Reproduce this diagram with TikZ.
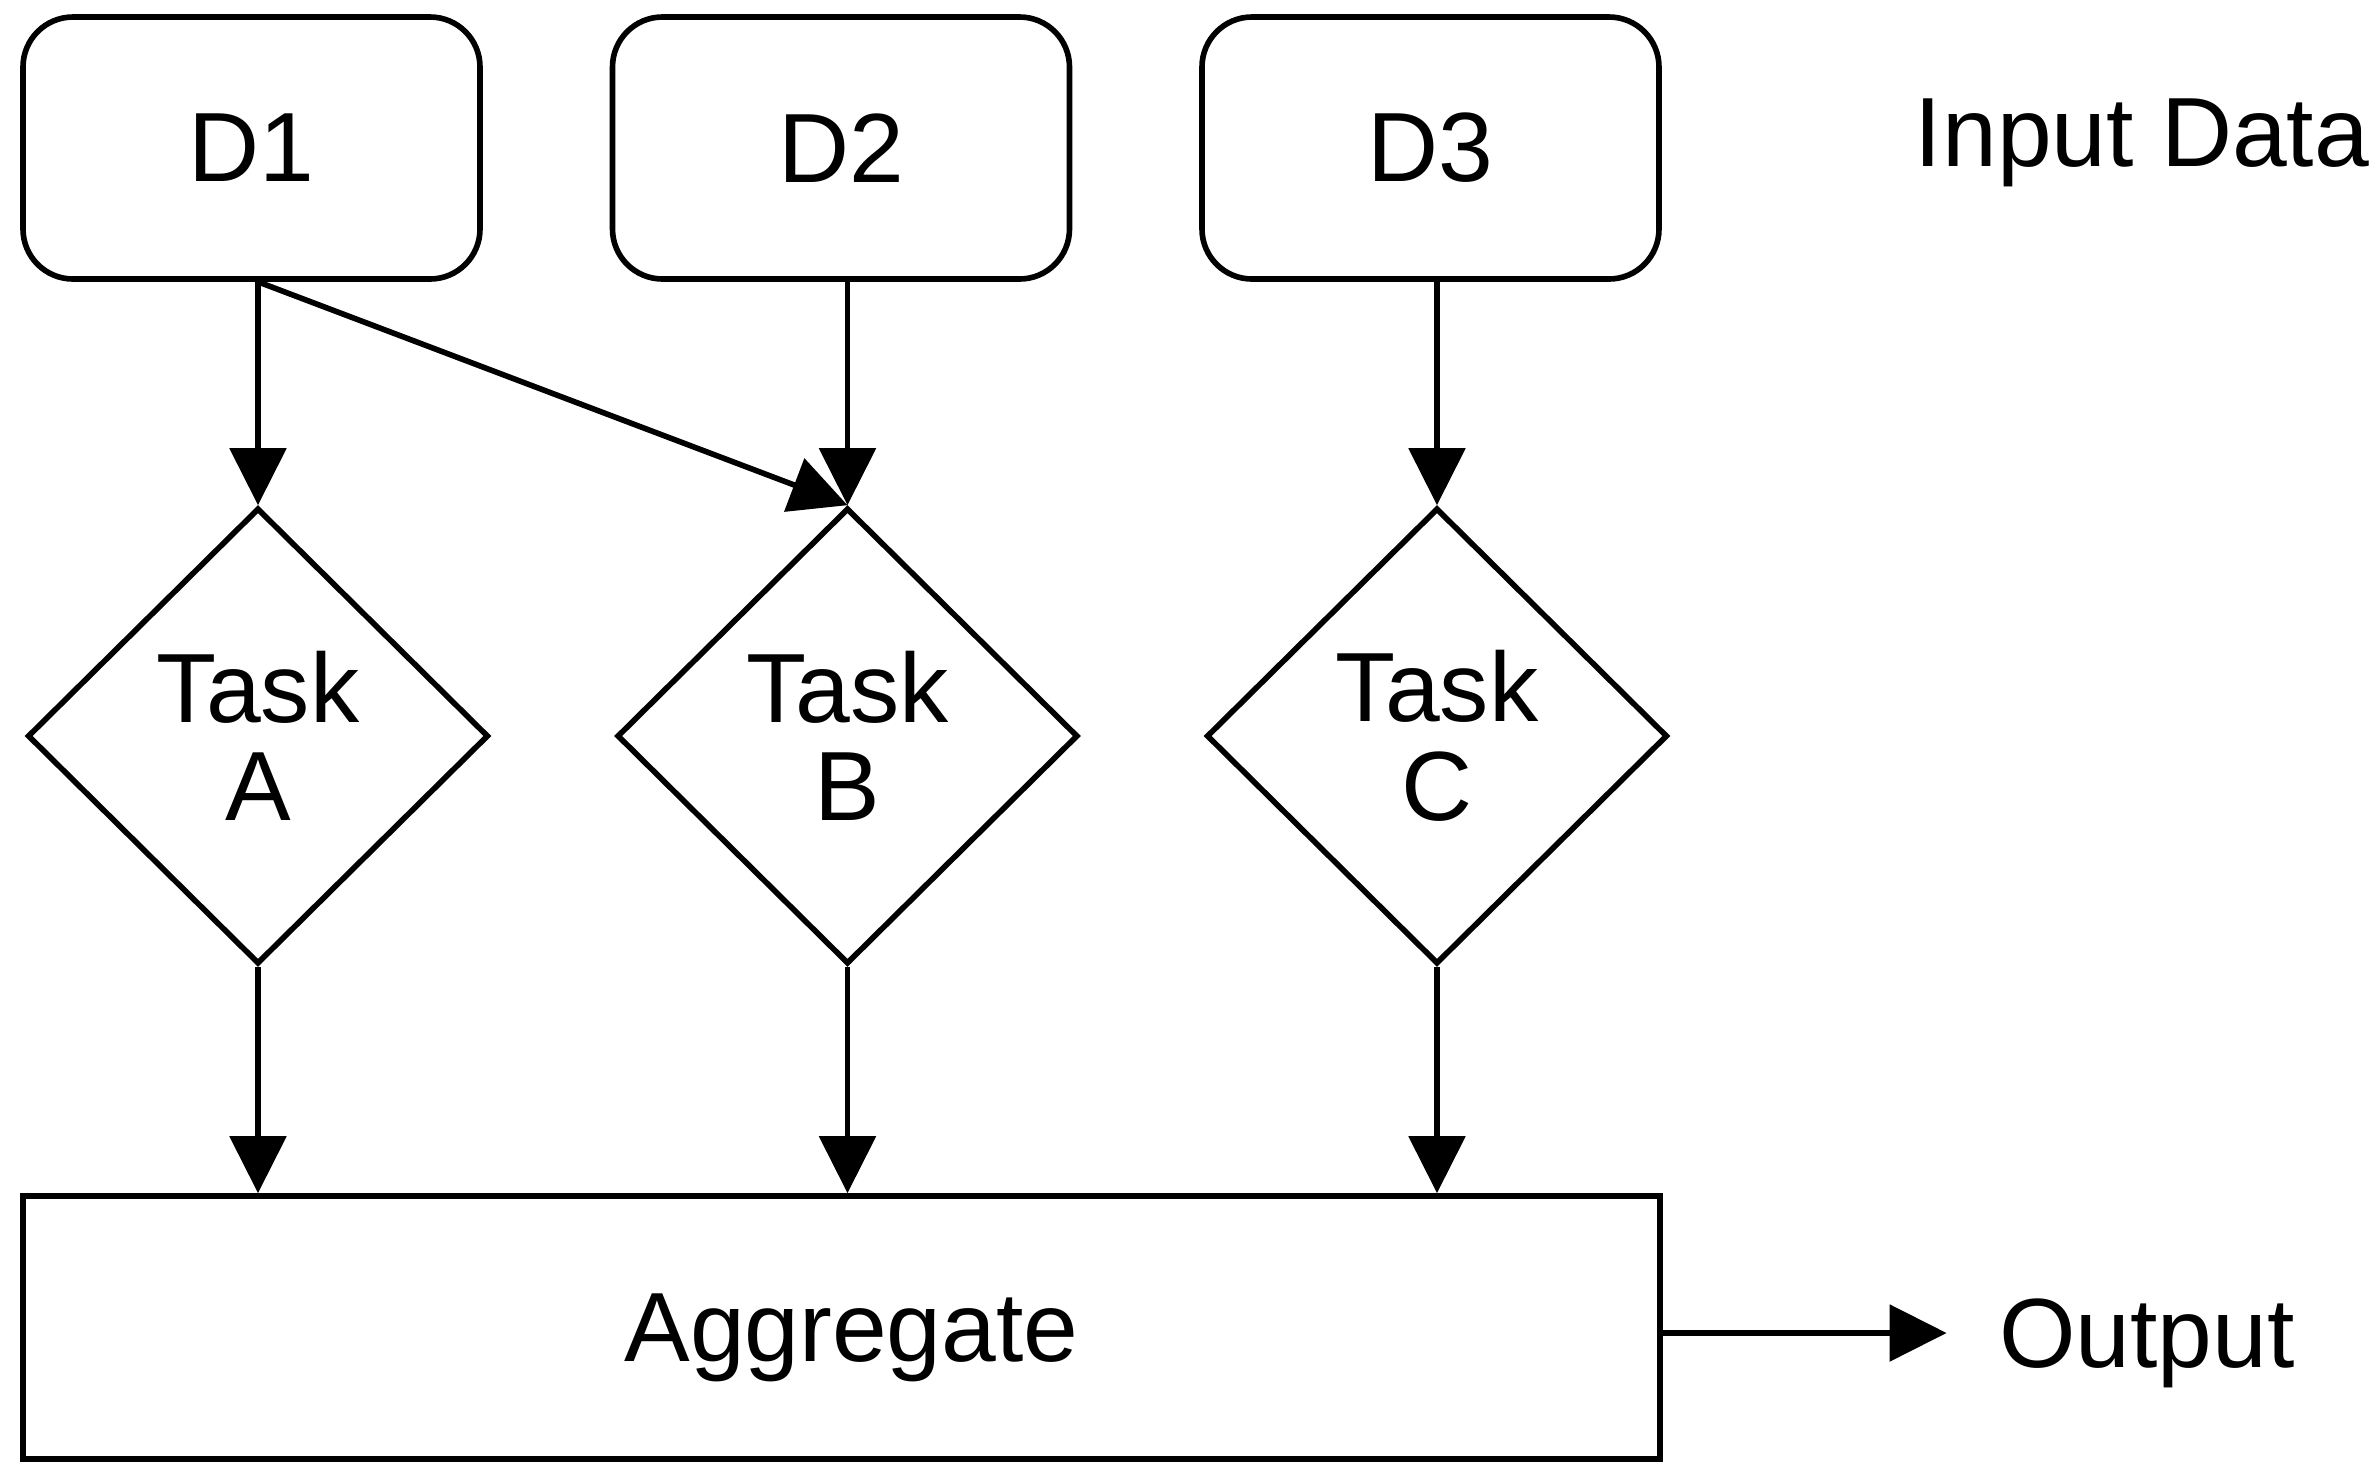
\documentclass[tikz,border=0pt]{standalone}
\usepackage{fontspec}
\setmainfont{Liberation Sans}
\usetikzlibrary{shapes.geometric,arrows.meta}
\begin{document}
\begin{tikzpicture}[font=\fontsize{28}{28}\selectfont,
  data/.style={draw,line width=1.6pt,rounded corners=.5cm,minimum width=4.57cm,minimum height=2.62cm},
  task/.style={draw,line width=1.6pt,diamond,align=center,inner sep=0pt,minimum width=4.61cm,minimum height=4.56cm},
  aggbox/.style={draw,line width=1.6pt,text depth=0pt,minimum width=16.37cm,minimum height=2.63cm},
  lbl/.style={text depth=0pt},
  flow/.style={line width=1.6pt,-{Triangle[length=.57cm,width=.56cm]}}]
\useasboundingbox (0,0) rectangle (23.8,-14.8);
% input data
\node[data] (d1) at (2.515,-1.48) {D1};
\node[data] (d2) at (8.41,-1.48) {D2};
\node[data] (d3) at (14.305,-1.48) {D3};
\node[lbl] (inp) at (21.42,-1.33) {Input Data};
% tasks
\node[task] (ta) at (2.58,-7.36) {Task\\A};
\node[task] (tb) at (8.475,-7.36) {Task\\B};
\node[task] (tc) at (14.37,-7.36) {Task\\C};
% aggregate and output
\node[aggbox] (agg) at (8.415,-13.275) {\hspace{.2cm}Aggregate};
\node[lbl,inner xsep=.52cm] (out) at (21.47,-13.33) {Output};
\draw[flow] (d1.south -| ta.north) -- (ta.north);
\draw[flow] (d1.south -| ta.north) -- (tb.north);
\draw[flow] (d2.south -| tb.north) -- (tb.north);
\draw[flow] (d3.south -| tc.north) -- (tc.north);
\draw[flow] (ta.south) -- (ta.south |- agg.north);
\draw[flow] (tb.south) -- (tb.south |- agg.north);
\draw[flow] (tc.south) -- (tc.south |- agg.north);
\draw[flow] (agg.east |- out.west) -- (out.west);
\end{tikzpicture}
\end{document}
